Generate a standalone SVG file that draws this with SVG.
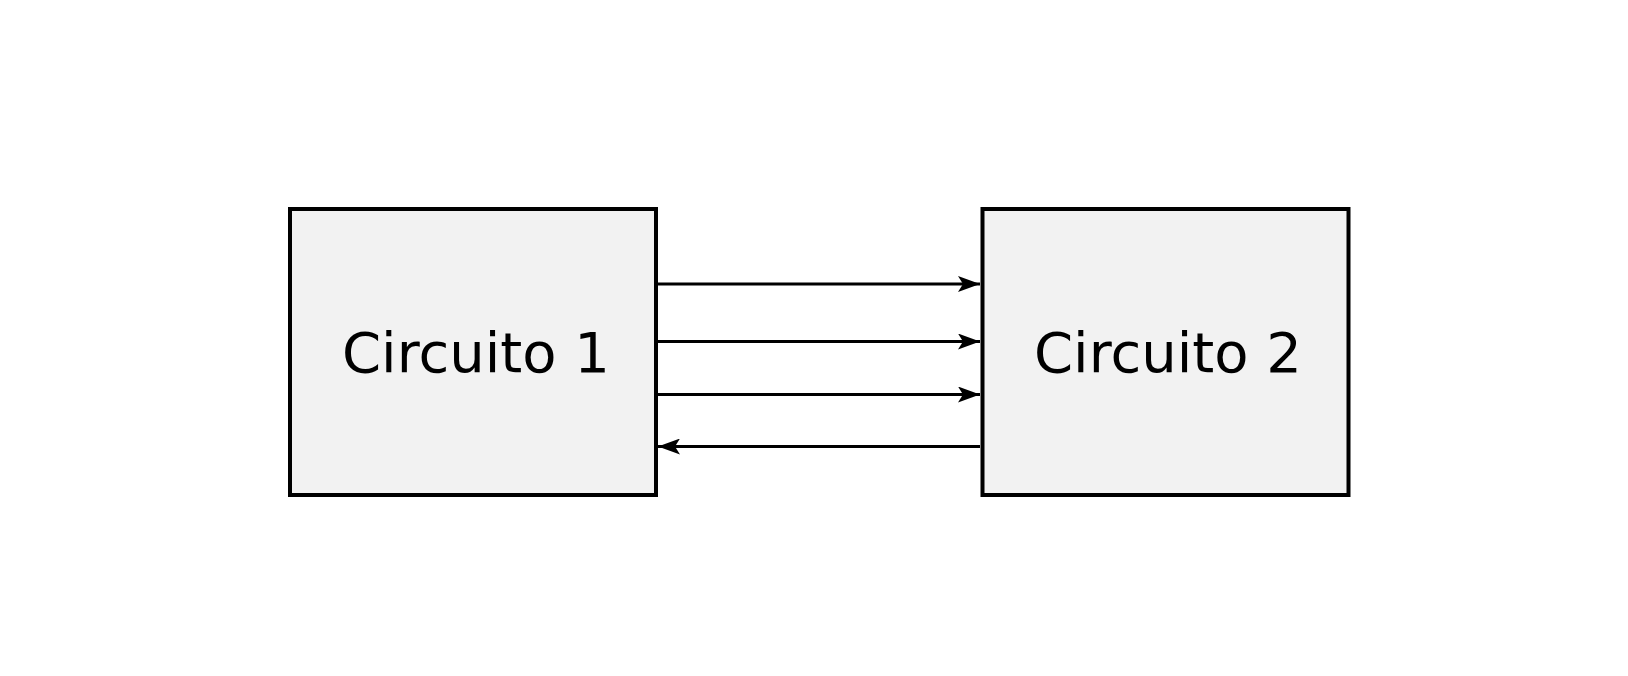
<svg xmlns="http://www.w3.org/2000/svg" width="1628" height="676" viewBox="0 0 1628 676">
<style>
.box{fill:#f2f2f2;stroke:#000;stroke-width:4}
.lbl{font-family:"DejaVu Sans",sans-serif;font-size:56px;fill:#000;text-anchor:middle}
.c{stroke:#000;stroke-width:3;fill:none}
</style>
<defs>
<marker id="ah" viewBox="0 0 22 16" refX="22" refY="8" markerWidth="22" markerHeight="16" markerUnits="userSpaceOnUse" orient="auto">
<path d="M0,0 L22,8 L0,16 L5,8 Z" fill="#000"/>
</marker>
</defs>
<rect width="1628" height="676" fill="#fff"/>
<g id="circuito1">
<rect class="box" x="290" y="209" width="366" height="286"/>
<text class="lbl" x="476" y="372">Circuito 1</text>
</g>
<g id="circuito2">
<rect class="box" x="982.5" y="209" width="366" height="286"/>
<text class="lbl" x="1168" y="372">Circuito 2</text>
</g>
<g id="connectors">
<line class="c" x1="658" y1="284" x2="980" y2="284" marker-end="url(#ah)"/>
<line class="c" x1="658" y1="341.5" x2="980" y2="341.5" marker-end="url(#ah)"/>
<line class="c" x1="658" y1="394.5" x2="980" y2="394.5" marker-end="url(#ah)"/>
<line class="c" x1="980" y1="446.5" x2="658" y2="446.5" marker-end="url(#ah)"/>
</g>
</svg>
